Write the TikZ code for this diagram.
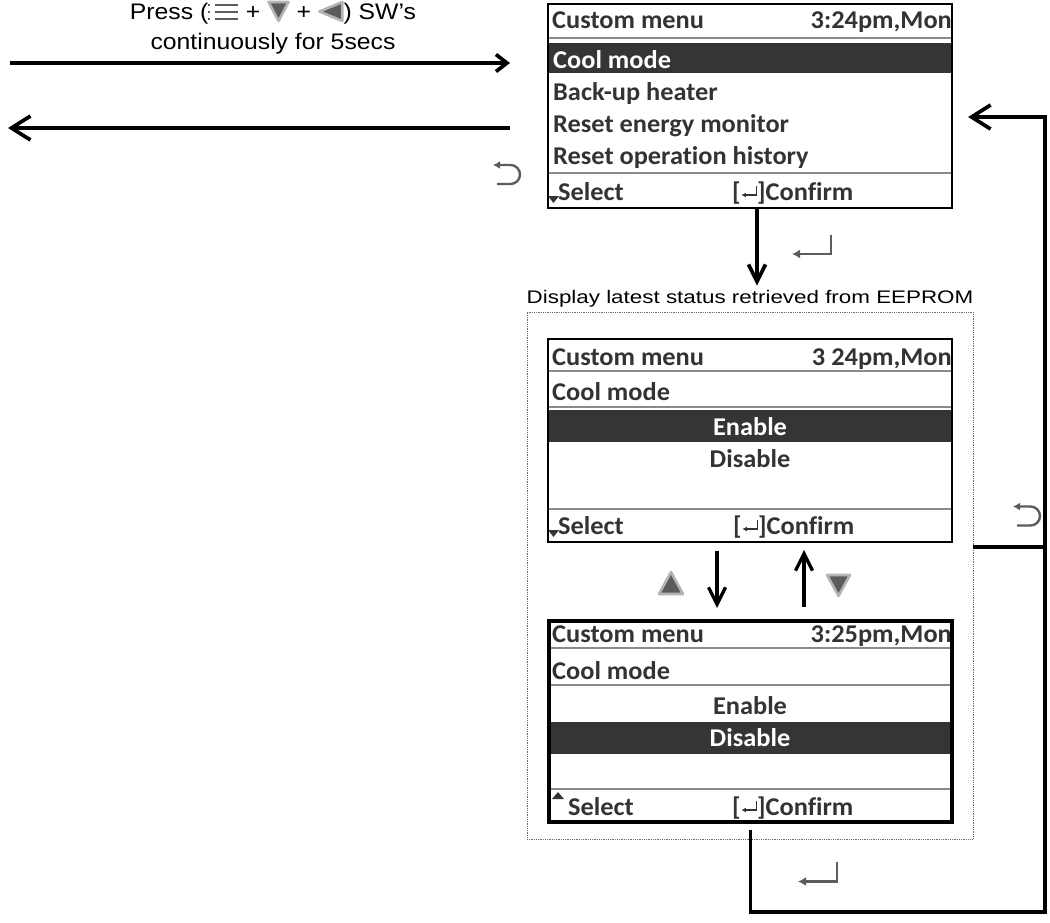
\documentclass[tikz,border=0pt]{standalone}
\usepackage{fontspec}
\setmainfont{Liberation Sans}
\newfontfamily\capfont[FakeStretch=1.1]{Liberation Sans}
\newfontfamily\labfont[FakeStretch=1.23]{Liberation Sans}
\newfontfamily\lcdfont[FakeStretch=1.03,Ligatures=NoCommon]{Carlito}
\usetikzlibrary{arrows.meta}
\definecolor{lcdtext}{HTML}{333333}
\definecolor{barfill}{HTML}{353535}
\definecolor{sepgray}{HTML}{8A8A8A}
\definecolor{icongray}{HTML}{5C5C5C}
\definecolor{iconedge}{HTML}{B4B4B4}
\definecolor{boxgray}{HTML}{6E6E6E}

\newcommand\menuicon{\tikz[baseline=0pt,x=1pt,y=1pt]{%
  \foreach \yy in {0,7,14}{\draw[icongray,line width=2pt] (7,\yy)--(30,\yy);
  \draw[icongray,line width=1.4pt] (1,\yy-1.2)--(1,\yy+1.2);}}}
\newcommand\downtri{\tikz[baseline=0pt,x=1pt,y=1pt]{\filldraw[fill=icongray,draw=iconedge,line width=2.6pt,line join=round] (0,17)--(20,17)--(10,-2)--cycle;}}
\newcommand\lefttri{\tikz[baseline=0pt,x=1pt,y=1pt]{\filldraw[fill=icongray,draw=iconedge,line width=2.6pt,line join=round] (23,17)--(23,-2)--(0,7.5)--cycle;}}
\newcommand\entsym{\tikz[baseline=0pt,x=1pt,y=1pt]{\draw[lcdtext,line width=1.3pt,-{Latex[length=4.5pt,width=5pt]}] (16,14) -- (16,5) -- (1,5);}}

\tikzset{
  lcd/.style={font=\lcdfont\bfseries\fontsize{25.6}{28}\selectfont, text=lcdtext, inner sep=0pt},
  lcdw/.style={lcd, text=white},
  sepline/.style={draw=sepgray, line width=1.5pt},
  screen/.style={draw=black, line width=2.2pt, minimum width=404pt, inner sep=0pt},
  conn/.style={line width=3.7pt, line join=miter},
  tipsmall/.style={-{Straight Barb[length=11pt,width=17pt]}},
  tipbig/.style={-{Straight Barb[length=19pt,width=24pt]}},
  tipvert/.style={-{Straight Barb[length=17pt,width=17pt]}},
  captext/.style={font=\capfont\fontsize{22.5}{30}\selectfont, inner sep=0pt},
  labtext/.style={font=\labfont\fontsize{18.2}{22}\selectfont, inner sep=0pt},
  icon/.style={draw=icongray, line width=2.4pt},
  pics/reticon/.style={code={\draw[icon, -{Latex[length=7pt,width=8pt]}] (-10,9.5) -- (3.5,9.5) arc[start angle=90,end angle=-90,radius=9.5] -- (-14,-9.5);}},
  pics/enticon/.style={code={\draw[icon, -{Latex[length=8pt,width=9pt]}] (19.5,-10) -- (19.5,9.5) -- (-19.5,9.5);}},
  triicon/.style={fill=icongray, draw=iconedge, line width=2.6pt, line join=round},
}

\begin{document}
\begin{tikzpicture}[x=1pt,y=-1pt]
\useasboundingbox (0,0) rectangle (1050,922);

% ---- top instruction ----
\node[captext, align=center, anchor=north] (press) at (273,0.5)
  {Press (\menuicon{} + \downtri{} + \lefttri{}) SW’s\\continuously for 5secs};
\coordinate (inA) at (10,63);
\coordinate (inB) at (510,63);
\coordinate (outA) at (510,128);
\coordinate (outB) at (8,128);
\draw[conn, tipsmall] (inA) -- (inB);
\draw[conn, tipbig] (outA) -- (outB);
\pic at (507,174.5) {reticon};

% ---- screen 1 ----
\fill[barfill] (549,43) rectangle (951,73);
\draw[sepline] (549,38) -- (951,38);
\draw[sepline] (549,173) -- (951,173);
\node[lcd, anchor=base west] (s1h) at (552,28) {Custom menu};
\node[lcd, anchor=base east] (s1t) at (952,28) {3:24pm,Mon};
\node[lcdw, anchor=base west] (s1a) at (553,68) {Cool mode};
\node[lcd, anchor=base west] (s1b) at (553,100) {Back-up heater};
\node[lcd, anchor=base west] (s1c) at (553,132) {Reset energy monitor};
\node[lcd, anchor=base west] (s1d) at (553,164) {Reset operation history};
\fill[lcdtext] (548,196) -- (559,196) -- (553.5,203) -- cycle;
\node[lcd, anchor=base west] (s1s) at (558,200) {Select};
\node[lcd, anchor=base west] (s1k) at (732,200) {[\entsym]Confirm};
\node[screen, minimum height=204pt] (s1) at (750,106) {};

% ---- group ----
\node[labtext, anchor=base] (lab) at (750,303) {Display latest status retrieved from EEPROM};
\node[draw=boxgray, densely dotted, line width=0.8pt, minimum width=446pt, minimum height=527pt, inner sep=0pt] (grp) at (750,575.5) {};

% ---- screen 2 ----
\fill[barfill] (549,410) rectangle (951,442);
\draw[sepline] (549,371) -- (951,371);
\draw[sepline] (549,407) -- (951,407);
\draw[sepline] (549,509) -- (951,509);
\node[lcd, anchor=base west] (s2h) at (552,365) {Custom menu};
\node[lcd, anchor=base east] (s2t) at (952,365) {3 24pm,Mon};
\node[lcd, anchor=base west] (s2a) at (552,400) {Cool mode};
\node[lcdw, anchor=base] (s2b) at (750,435) {Enable};
\node[lcd, anchor=base] (s2c) at (750,467) {Disable};
\fill[lcdtext] (548,530) -- (559,530) -- (553.5,537) -- cycle;
\node[lcd, anchor=base west] (s2s) at (558,534) {Select};
\node[lcd, anchor=base west] (s2k) at (733,534) {[\entsym]Confirm};
\node[screen, minimum height=203pt] (s2) at (750,440.5) {};

% ---- screen 3 ----
\fill[barfill] (550,722) rectangle (951,754);
\draw[sepline] (550,648) -- (951,648);
\draw[sepline] (550,685) -- (951,685);
\draw[sepline] (550,789) -- (951,789);
\node[lcd, anchor=base west] (s3h) at (552,642) {Custom menu};
\node[lcd, anchor=base east] (s3t) at (952,642) {3:25pm,Mon};
\node[lcd, anchor=base west] (s3a) at (552,679) {Cool mode};
\node[lcd, anchor=base] (s3b) at (750,714) {Enable};
\node[lcdw, anchor=base] (s3c) at (750,746) {Disable};
\fill[lcdtext] (552,799) -- (564,799) -- (558,792) -- cycle;
\node[lcd, anchor=base west] (s3s) at (568,815) {Select};
\node[lcd, anchor=base west] (s3k) at (732,815) {[\entsym]Confirm};
\node[screen, line width=3.2pt, minimum width=403pt, minimum height=201pt] (s3) at (750.5,721.5) {};

% ---- connectors ----
\draw[conn, tipvert] ([xshift=7pt]s1.south) -- ([xshift=7pt,yshift=4pt]lab.north);
\pic at (811.5,244.5) {enticon};

\coordinate (dn) at (717,608);
\coordinate (up) at (804,550);
\draw[line width=3.3pt, tipvert] ([yshift=-8pt]s2.south -| dn) -- (dn);
\draw[line width=3.3pt, tipvert] ([yshift=12pt]s3.north -| up) -- (up);
\filldraw[triicon] (659,594) -- (683,594) -- (671,572) -- cycle;
\filldraw[triicon] (827,575) -- (850,575) -- (838.5,596) -- cycle;

\coordinate (j) at (1045,547);
\coordinate (cb) at (1045,912);
\coordinate (tp) at (1045,117);
\draw[conn] (grp.east |- j) -- (j);
\draw[conn, tipbig] ([yshift=-6pt]s3.south) |- (cb) -- (tp) -- ([xshift=15pt]s1.east |- tp);
\pic at (1027,516) {reticon};
\pic at (817.5,872) {enticon};
\end{tikzpicture}
\end{document}
